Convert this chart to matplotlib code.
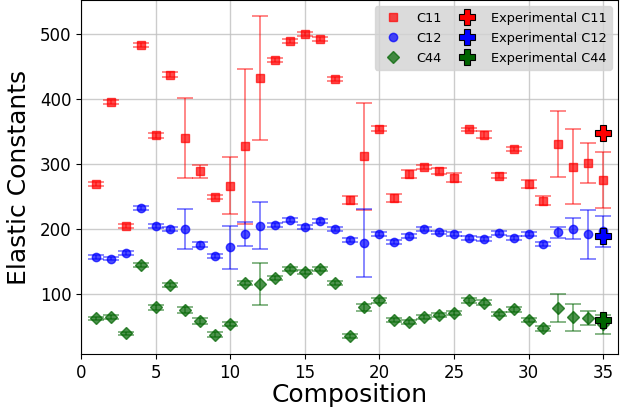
import numpy as np
import matplotlib
matplotlib.use("Agg")
import matplotlib.pyplot as plt

# composition index
composition = list(range(1, 36))

# computed elastic constants (GPa) and their error bars
c11 = [270, 395, 205, 483, 344, 437, 340, 289, 249, 267, 327, 432, 459, 489, 500, 492, 431, 245,
       312, 354, 248, 285, 296, 289, 279, 353, 345, 282, 323, 269, 244, 331, 296, 302, 276]
c11_err = [3, 3, 3, 3, 4, 4, 61, 10, 3, 44, 119, 95, 3, 3, 3, 3, 3, 6,
           82, 4, 6, 6, 3, 5, 7, 3, 5, 4, 3, 6, 7, 51, 57, 31, 43]

c12 = [157, 155, 163, 232, 205, 200, 200, 176, 159, 172, 193, 205, 206, 214, 203, 212, 200, 183,
       179, 193, 181, 189, 201, 195, 192, 186, 185, 194, 187, 192, 178, 195, 201, 192, 197]
c12_err = [3, 3, 3, 3, 3, 3, 31, 4, 3, 33, 18, 36, 3, 3, 3, 3, 3, 3,
           52, 3, 3, 3, 3, 3, 3, 3, 3, 3, 3, 3, 3, 8, 16, 37, 24]

c44 = [63, 65, 40, 145, 80, 114, 76, 59, 38, 54, 118, 116, 125, 139, 135, 139, 118, 36,
       80, 91, 60, 58, 65, 69, 71, 91, 87, 70, 77, 61, 48, 79, 65, 64, 54]
c44_err = [3, 3, 3, 3, 4, 3, 4, 4, 4, 3, 3, 32, 3, 3, 3, 3, 3, 3,
           5, 4, 3, 3, 3, 3, 3, 4, 4, 3, 4, 3, 4, 21, 21, 11, 15]

# experimental values
exp_x = 35
exp_c11 = 347
exp_c12 = 190
exp_c44 = 60

fig, ax = plt.subplots(figsize=(6.23, 4.08), dpi=100)

series = [
    ("C11", c11, c11_err, "red", "s"),
    ("C12", c12, c12_err, "blue", "o"),
    ("C44", c44, c44_err, "darkgreen", "D"),
]
for label, vals, errs, col, mk in series:
    ax.errorbar(composition, vals, yerr=errs, fmt="none", ecolor=col, alpha=0.55,
                capsize=6, elinewidth=1.2, capthick=1.2)
    ax.plot(composition, vals, linestyle="none", marker=mk, color=col, alpha=0.7,
            markersize=6, label=label)

for label, val, col in [("Experimental C11", exp_c11, "red"),
                        ("Experimental C12", exp_c12, "blue"),
                        ("Experimental C44", exp_c44, "darkgreen")]:
    ax.plot(exp_x, val, linestyle="none", marker="P", markersize=12, color=col,
            markeredgecolor="black", markeredgewidth=0.8, label=label)

ax.set_xlim(0, 36)
ax.set_xticks([0, 5, 10, 15, 20, 25, 30, 35])
ax.set_yticks([100, 200, 300, 400, 500])
ax.tick_params(labelsize=12)
ax.grid(True, color="#c0c0c0", linewidth=1.0, alpha=0.8)
ax.set_axisbelow(True)
ax.set_xlabel("Composition", fontsize=18, labelpad=1)
ax.set_ylabel("Elastic Constants", fontsize=18, labelpad=6)

ax.legend(loc="upper right", ncol=2, fontsize=9.3, facecolor="lightgray", framealpha=0.8,
          edgecolor="lightgray", labelspacing=0.55, columnspacing=1.0)

plt.subplots_adjust(left=0.13, right=0.992, bottom=0.132, top=1.0)
plt.savefig("out.png", dpi=100)
